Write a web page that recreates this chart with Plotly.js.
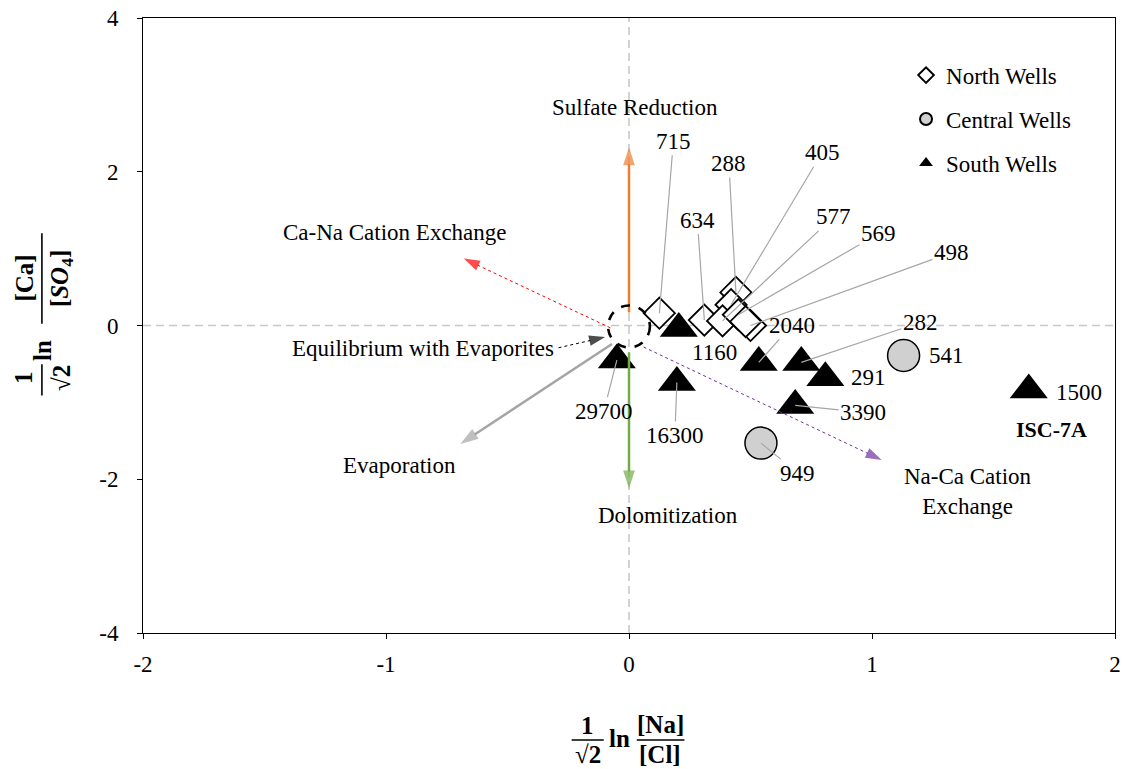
<!DOCTYPE html>
<html>
<head>
<meta charset="utf-8">
<script src="https://cdn.plot.ly/plotly-3.0.1.min.js"></script>
<style>
  html, body { margin: 0; padding: 0; background: #fff; }
  #chart { width: 1123px; height: 769px; }
</style>
</head>
<body>
<div id="chart"></div>
<script>
// ---- Well data: x = (1/√2)·ln([Na]/[Cl]), y = (1/√2)·ln([Ca]/[SO4]) ----
const northX = [0.125, 0.31, 0.44, 0.42, 0.385, 0.45, 0.50, 0.48];
const northY = [0.16, 0.07, 0.43, 0.27, 0.06, 0.14, 0.00, 0.05];
const northLabels = ['715', '634', '288', '405', '577', '569', '498', ''];

const centralX = [1.13, 0.543];
const centralY = [-0.39, -1.53];
const centralLabels = ['541', '949'];

const southX = [0.205, -0.05, 0.197, 0.534, 0.709, 0.808, 0.684, 1.645];
const southY = [-0.04, -0.45, -0.74, -0.48, -0.48, -0.68, -1.04, -0.84];
const southLabels = ['1160', '29700', '16300', '2040', '282', '291', '3390', '1500'];

// Process vectors (tail -> tip) drawn from the evaporite-equilibrium origin
const processNames = ['Sulfate Reduction', 'Dolomitization', 'Ca-Na Cation Exchange',
                      'Evaporation', 'Na-Ca Cation Exchange', 'Equilibrium with Evaporites'];
const processTailX = [0, 0, -0.077, -0.07, 0.06, -0.29];
const processTailY = [0.17, -0.35, -0.03, -0.24, -0.28, -0.29];
const processTipX  = [0, 0, -0.68, -0.694, 1.04, -0.098];
const processTipY  = [2.32, -2.12, 0.87, -1.54, -1.75, -0.15];

// Axis ticks
const xTickVals = [-2, -1, 0, 1, 2];
const xTickText = ['-2', '-1', '0', '1', '2'];
const yTickVals = [-4, -2, 0, 2, 4];
const yTickText = ['-4', '-2', '0', '2', '4'];

// ---- Styling ----
const SERIF = '"Liberation Serif", "Times New Roman", serif';
const processStyle = [
  { color: '#ED7D31', width: 2.5, dash: 'solid', head: 19 },
  { color: '#70AD47', width: 2.5, dash: 'solid', head: 19 },
  { color: '#FF0000', width: 1,   dash: 'dot',   head: 17 },
  { color: '#A5A5A5', width: 2.5, dash: 'solid', head: 19 },
  { color: '#7030A0', width: 1,   dash: 'dot',   head: 17 },
  { color: '#000000', width: 1,   dash: 'dot',   head: 17 }
];
// label text centre offset from its point in pixels, and whether a leader line is drawn
const labelPlacement = {
  '715':   [14, -172, true],
  '634':   [-7, -100, true],
  '288':   [-7, -129, true],
  '405':   [91, -152, true],
  '577':   [111, -104, true],
  '569':   [140, -81, true],
  '498':   [201, -73, true],
  '1160':  [36, 24, false],
  '29700': [-13, 51, true],
  '16300': [-2, 53, true],
  '2040':  [33, -37, true],
  '282':   [119, -40, true],
  '291':   [43, 0, false],
  '3390':  [68, 7, true],
  '1500':  [50, 2, false],
  '541':   [43, 0, false],
  '949':   [37, 30, true]
};

const traces = [];

traces.push({
  type: 'scatter', mode: 'markers', name: 'North Wells', legendgroup: 'n',
  x: northX, y: northY,
  marker: { symbol: 'diamond', size: 24, color: '#ffffff', line: { color: '#000', width: 1.8 } },
  hoverinfo: 'skip'
});
traces.push({
  type: 'scatter', mode: 'markers', name: 'Central Wells', legendgroup: 'c',
  x: centralX, y: centralY,
  marker: { symbol: 'circle', size: 32, color: '#D0D0D0', line: { color: '#000', width: 1.5 } },
  hoverinfo: 'skip'
});
traces.push({
  type: 'scatter', mode: 'markers', name: 'South Wells', legendgroup: 's',
  x: southX, y: southY,
  marker: { symbol: 'triangle-up', size: 33, color: '#000000', line: { color: '#000', width: 0 } },
  hoverinfo: 'skip'
});

// process arrows: a line with an arrow marker at the tip
for (let i = 0; i < processNames.length; i++) {
  const st = processStyle[i];
  traces.push({
    type: 'scatter', mode: 'lines+markers', showlegend: false, hoverinfo: 'skip',
    name: processNames[i],
    x: [processTailX[i], processTipX[i]],
    y: [processTailY[i], processTipY[i]],
    line: { color: st.color, width: st.width, dash: st.dash },
    marker: { symbol: 'arrow', angleref: 'previous', size: [0, st.head], color: st.color,
              line: { width: 0 } }
  });
}

const annotations = [];
function addLabels(xs, ys, labels) {
  for (let i = 0; i < labels.length; i++) {
    const lab = labels[i];
    if (!lab) continue;
    const p = labelPlacement[lab];
    const a = {
      x: xs[i], y: ys[i], xref: 'x', yref: 'y', text: lab,
      font: { family: SERIF, size: 23, color: '#000' }
    };
    if (p[2]) {
      Object.assign(a, { showarrow: true, ax: p[0], ay: p[1], arrowhead: 0, standoff: 0,
                         arrowwidth: 1.2, arrowcolor: '#A6A6A6' });
    } else {
      Object.assign(a, { showarrow: false, xshift: p[0], yshift: -p[1] });
    }
    annotations.push(a);
  }
}
addLabels(northX, northY, northLabels);
addLabels(centralX, centralY, centralLabels);
addLabels(southX, southY, southLabels);

// bold site name under the isolated south well
const iscIdx = southLabels.indexOf('1500');
annotations.push({
  x: southX[iscIdx], y: southY[iscIdx], xref: 'x', yref: 'y', text: '<b>ISC-7A</b>',
  showarrow: false, xshift: 23, yshift: -39,
  font: { family: SERIF, size: 22, color: '#000' }
});

// process names
const processText = [
  { t: 'Sulfate Reduction', x: 0.023, y: 2.84 },
  { t: 'Dolomitization', x: 0.16, y: -2.47 },
  { t: 'Ca-Na Cation Exchange', x: -0.965, y: 1.205 },
  { t: 'Evaporation', x: -0.944, y: -1.82 },
  { t: 'Na-Ca Cation<br>Exchange', x: 1.395, y: -2.16 },
  { t: 'Equilibrium with Evaporites', x: -0.848, y: -0.303 }
];
processText.forEach(p => annotations.push({
  x: p.x, y: p.y, xref: 'x', yref: 'y', text: p.t, showarrow: false,
  font: { family: SERIF, size: 23, color: '#000' }
}));

// axis titles written as stacked fractions
const MATH = { family: SERIF, size: 25, color: '#000' };
function mathText(text, x, y, angle) {
  annotations.push({ x: x, y: y, xref: 'paper', yref: 'paper', text: text, showarrow: false,
    textangle: angle || 0, font: MATH, xanchor: 'center', yanchor: 'middle' });
}
// x title: (1/√2) ln([Na]/[Cl])
mathText('<b>1</b>', 0.457, -0.150);
mathText('<b>√2</b>', 0.458, -0.198);
mathText('<b>ln</b>', 0.490, -0.172);
mathText('<b>[Na]</b>', 0.532, -0.148);
mathText('<b>[Cl]</b>', 0.532, -0.197);
// y title: (1/√2) ln([Ca]/[SO4])
mathText('<b>1</b>', -0.1234, 0.4146, -90);
mathText('<b>√2</b>', -0.0844, 0.4146, -90);
mathText('<b>ln</b>', -0.104, 0.460, -90);
mathText('<b>[Ca]</b>', -0.1220, 0.577, -90);
mathText('<b>[<i>SO</i><sub>4</sub>]</b>', -0.0844, 0.577, -90);

const fracLine = { color: '#000', width: 1.6 };
const shapes = [
  // zero reference lines
  { type: 'line', xref: 'x', yref: 'paper', x0: 0, x1: 0, y0: 0, y1: 1, layer: 'below',
    line: { color: '#C8C8C8', width: 1.6, dash: '8px,5px' } },
  { type: 'line', xref: 'paper', yref: 'y', x0: 0, x1: 1, y0: 0, y1: 0, layer: 'below',
    line: { color: '#C8C8C8', width: 1.6, dash: '8px,5px' } },
  // evaporite-equilibrium zone
  { type: 'circle', xref: 'x', yref: 'y', x0: -0.086, x1: 0.086, y0: -0.286, y1: 0.26,
    layer: 'above', line: { color: '#000', width: 2.6, dash: 'dash' }, fillcolor: 'rgba(0,0,0,0)' },
  // fraction bars
  { type: 'line', xref: 'paper', yref: 'paper', x0: 0.441, x1: 0.474, y0: -0.174, y1: -0.174, line: fracLine },
  { type: 'line', xref: 'paper', yref: 'paper', x0: 0.508, x1: 0.557, y0: -0.174, y1: -0.174, line: fracLine },
  { type: 'line', xref: 'paper', yref: 'paper', x0: -0.104, x1: -0.104, y0: 0.386, y1: 0.437, line: fracLine },
  { type: 'line', xref: 'paper', yref: 'paper', x0: -0.104, x1: -0.104, y0: 0.503, y1: 0.650, line: fracLine }
];

const axisCommon = {
  showline: true, mirror: true, linecolor: '#000', linewidth: 1,
  ticks: 'outside', ticklen: 5, tickcolor: '#000', tickwidth: 1,
  showgrid: false, zeroline: false, tickmode: 'array',
  tickfont: { family: SERIF, size: 23, color: '#000' }
};

const layout = {
  width: 1123, height: 769,
  margin: { l: 143, r: 8, t: 18, b: 136 },
  paper_bgcolor: '#fff', plot_bgcolor: '#fff',
  font: { family: SERIF, color: '#000' },
  xaxis: Object.assign({}, axisCommon, { range: [-2, 2], tickvals: xTickVals, ticktext: xTickText,
    ticklabelstandoff: 5 }),
  yaxis: Object.assign({}, axisCommon, { range: [-4, 4], tickvals: yTickVals, ticktext: yTickText,
    ticklabelstandoff: 14 }),
  legend: {
    x: 0.785, y: 0.942, xanchor: 'left', yanchor: 'top',
    bgcolor: 'rgba(0,0,0,0)', borderwidth: 0,
    font: { family: SERIF, size: 23, color: '#000' },
    traceorder: 'grouped', tracegroupgap: 11, itemsizing: 'constant'
  },
  annotations: annotations,
  shapes: shapes,
  showlegend: true
};

Plotly.newPlot('chart', traces, layout, { staticPlot: true, displayModeBar: false });
</script>
</body>
</html>
